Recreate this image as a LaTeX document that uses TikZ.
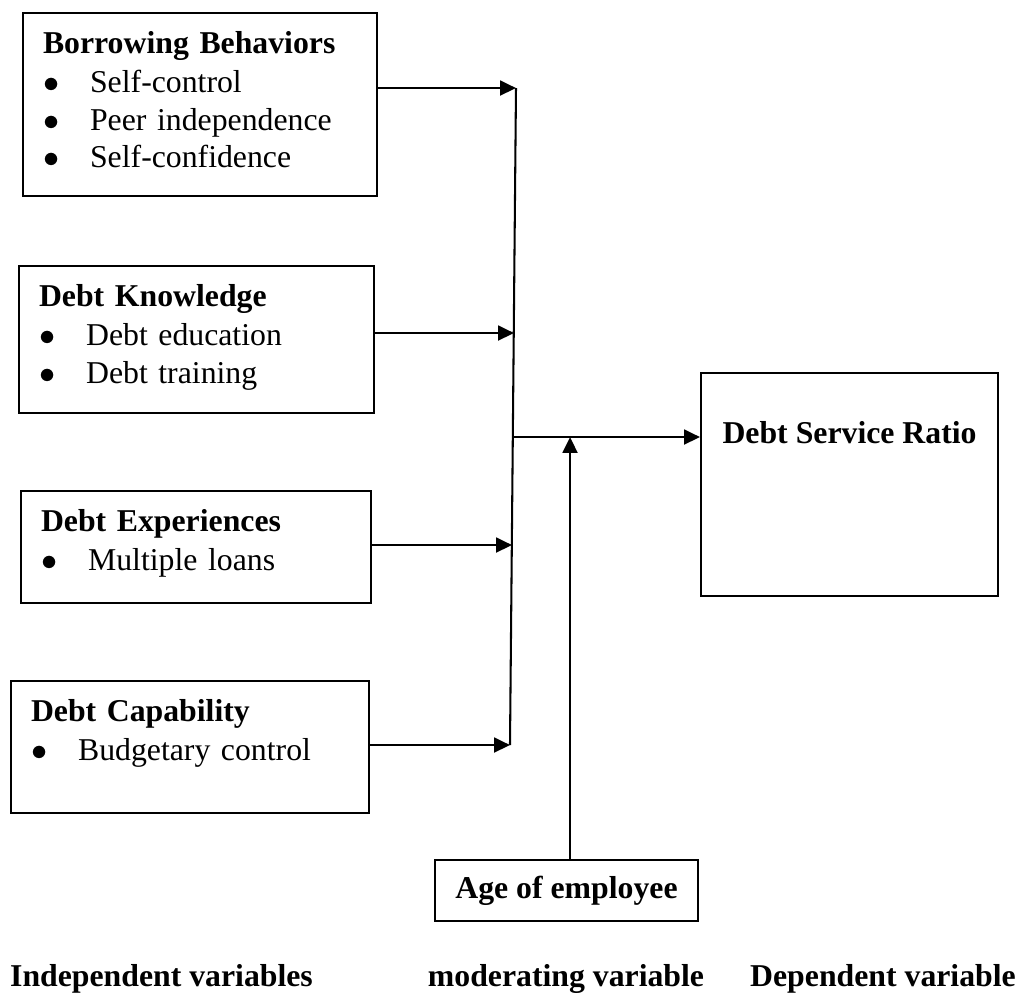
\documentclass[tikz,border=0pt]{standalone}
\usepackage{fontspec}
\setmainfont{Liberation Serif}
\usetikzlibrary{arrows.meta}
\newcommand{\bitem}{\makebox[16pt][l]{$\bullet$}}

\begin{document}
\begin{tikzpicture}[
    x=0.34pt, y=-0.34pt,
    font=\fontsize{10.8}{12.7}\selectfont,
    varbox/.style={rectangle, draw, line width=0.7pt, align=left, anchor=north west,
                   inner xsep=6.8pt, inner ysep=0pt, text height=13.6pt, text width=#1},
    outbox/.style={rectangle, draw, line width=0.7pt, font=\fontsize{10.8}{12}\selectfont\bfseries},
    caption/.style={font=\fontsize{10.8}{12}\selectfont\bfseries, anchor=base},
    wire/.style={line width=0.7pt},
    arrow/.style={-{Triangle[length=5.4pt, width=5pt]}, line width=0.95pt}
]
\useasboundingbox (0,0) rectangle (1024,993);

% Independent variables
\node[varbox=106.8pt, text depth=48.6pt] (borrow) at (22,12)
  {\textbf{Borrowing Behaviors}\\[0.8pt]
   \bitem Self-control\\ \bitem Peer independence\\ \bitem Self-confidence};
\node[varbox=107.1pt, text depth=36.4pt] (know) at (18,265)
  {\textbf{Debt Knowledge}\\[0.8pt] \bitem Debt education\\ \bitem Debt training};
\node[varbox=105.4pt, text depth=24.5pt] (exper) at (20,490)
  {\textbf{Debt Experiences}\\[0.8pt] \bitem Multiple loans};
\node[varbox=108.1pt, text depth=31.3pt] (capab) at (10,680)
  {\textbf{Debt Capability}\\[0.8pt] \bitem Budgetary control};

% Dependent and moderating variables
\node[outbox, anchor=north west, minimum width=101pt, inner ysep=0pt,
      text height=24.1pt, text depth=51.7pt] (dsr) at (700,372) {Debt Service Ratio};
\node[outbox, minimum width=89.4pt, minimum height=20.7pt] (age) at (566.5,890.5) {Age of employee};

% Joining line
\coordinate (jtop) at (516,88);
\coordinate (jknow) at (514,333);
\coordinate (jmid) at (512,437);
\coordinate (jexp) at (512,545);
\coordinate (jbot) at (510,745);
\draw[wire] (jtop) -- (jbot);

% Arrows
\draw[arrow] (borrow.east |- jtop) -- (jtop);
\draw[arrow] (know.east |- jknow) -- (jknow);
\draw[arrow] (exper.east |- jexp) -- (jexp);
\draw[arrow] (capab.east |- jbot) -- (jbot);
\draw[arrow] (jmid) -- (dsr.west |- jmid);
\draw[arrow] ([xshift=1.2pt]age.north) -- ([xshift=1.2pt]age.north |- jmid);

% Captions
\node[caption] (indep) at (161.5,986) {Independent variables};
\node[caption] (moder) at (566,986) {moderating variable};
\node[caption] (depen) at (883,986) {Dependent variable};

\end{tikzpicture}
\end{document}
